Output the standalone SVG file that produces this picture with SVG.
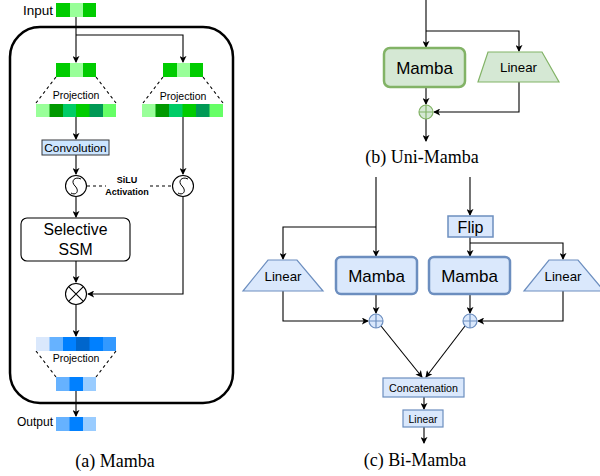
<svg xmlns="http://www.w3.org/2000/svg" width="600" height="476" viewBox="0 0 600 476">
<style>
.ln{fill:none;stroke:#000;stroke-width:1.1}
.da{fill:none;stroke:#000;stroke-width:1.1;stroke-dasharray:3 3}
.t{font-family:"Liberation Sans",Arial,sans-serif;fill:#000}
.cap{font-family:"Liberation Serif","Times New Roman",serif;font-size:18px;fill:#000}
.g{fill:#d5e8d4;stroke:#82b366}
.b{fill:#dae8fc;stroke:#6c8ebf}
</style>
<defs>
<marker id="ar" viewBox="0 0 8 8" refX="7" refY="4" markerWidth="7" markerHeight="7" markerUnits="userSpaceOnUse" orient="auto">
<path d="M0,0 L8,4 L0,8 L2,4 Z" fill="#000"/>
</marker>
</defs>

<!-- connectors -->
<g id="connectors">
<path class="ln" d="M76,16 V62" marker-end="url(#ar)"/>
<path class="ln" d="M76,35 H183 V62" marker-end="url(#ar)"/>
<path class="ln" d="M76,117 V139" marker-end="url(#ar)"/>
<path class="ln" d="M183,117 V174" marker-end="url(#ar)"/>
<path class="ln" d="M76,155 V174" marker-end="url(#ar)"/>
<path class="da" d="M87,186 H106 M150,186 H172"/>
<path class="ln" d="M76,197 V217" marker-end="url(#ar)"/>
<path class="ln" d="M76,261 V282" marker-end="url(#ar)"/>
<path class="ln" d="M183,197 V294 H88" marker-end="url(#ar)"/>
<path class="ln" d="M76,305 V336" marker-end="url(#ar)"/>
<path class="ln" d="M76,391 V416" marker-end="url(#ar)"/>
<path class="da" d="M56,77 L36,103 M96,77 L116,103"/>
<path class="da" d="M163,77 L143,103 M203,77 L223,103"/>
<path class="da" d="M36,351 L56,377 M116,351 L96,377"/>

<path class="ln" d="M426,0 V47" marker-end="url(#ar)"/>
<path class="ln" d="M426,31 H519 V51" marker-end="url(#ar)"/>
<path class="ln" d="M426,87 V104" marker-end="url(#ar)"/>
<path class="ln" d="M519,82 V112 H434" marker-end="url(#ar)"/>
<path class="ln" d="M426,119 V141" marker-end="url(#ar)"/>

<path class="ln" d="M376,177 V256" marker-end="url(#ar)"/>
<path class="ln" d="M376,227 H283 V259" marker-end="url(#ar)"/>
<path class="ln" d="M470,177 V215" marker-end="url(#ar)"/>
<path class="ln" d="M470,237 V256" marker-end="url(#ar)"/>
<path class="ln" d="M470,243 H563 V259" marker-end="url(#ar)"/>
<path class="ln" d="M376,294 V313" marker-end="url(#ar)"/>
<path class="ln" d="M470,294 V313" marker-end="url(#ar)"/>
<path class="ln" d="M283,291 V321 H368" marker-end="url(#ar)"/>
<path class="ln" d="M563,291 V321 H478" marker-end="url(#ar)"/>
<path class="ln" d="M381,326 L422,377" marker-end="url(#ar)"/>
<path class="ln" d="M465,326 L426,377" marker-end="url(#ar)"/>
<path class="ln" d="M424,397 V409" marker-end="url(#ar)"/>
<path class="ln" d="M424,427 V443" marker-end="url(#ar)"/>
</g>

<!-- (a) Mamba -->
<g id="outer"><rect x="10" y="27" width="223" height="376" rx="30" fill="none" stroke="#000" stroke-width="2.5"/></g>

<g id="input">
<text class="t" x="53" y="15" font-size="13.5" text-anchor="end">Input</text>
<rect x="56" y="3" width="14" height="14" fill="#00cc00"/><rect x="70" y="3" width="13" height="14" fill="#99ff99"/><rect x="83" y="3" width="13" height="14" fill="#00cc00"/>
</g>

<g id="proj-left">
<rect x="56" y="63" width="14" height="14" fill="#00cc00"/><rect x="70" y="63" width="13" height="14" fill="#99ff99"/><rect x="83" y="63" width="13" height="14" fill="#00cc00"/>
<text class="t" x="76" y="99" font-size="10.5" text-anchor="middle" fill="#333">Projection</text>
<rect x="36" y="104" width="14" height="13" fill="#99ff99"/><rect x="49.5" y="104" width="14" height="13" fill="#009900"/><rect x="63" y="104" width="14" height="13" fill="#00cc66"/><rect x="76" y="104" width="14" height="13" fill="#00cc00"/><rect x="89.5" y="104" width="14" height="13" fill="#009955"/><rect x="103" y="104" width="13" height="13" fill="#66ff66"/>
</g>

<g id="proj-right">
<rect x="163" y="63" width="14" height="14" fill="#00cc00"/><rect x="177" y="63" width="13" height="14" fill="#99ff99"/><rect x="190" y="63" width="13" height="14" fill="#00cc00"/>
<text class="t" x="183" y="100" font-size="10.5" text-anchor="middle" fill="#333">Projection</text>
<rect x="142" y="104" width="14" height="13" fill="#99ff99"/><rect x="155.5" y="104" width="14" height="13" fill="#009900"/><rect x="169" y="104" width="14" height="13" fill="#00cc66"/><rect x="182.5" y="104" width="14" height="13" fill="#00cc00"/><rect x="196" y="104" width="14" height="13" fill="#009955"/><rect x="209.5" y="104" width="13.5" height="13" fill="#66ff66"/>
</g>

<g id="conv">
<rect x="42" y="140" width="67" height="15" fill="#cce5ff" stroke="#36393d" stroke-width="1"/>
<text class="t" x="75.5" y="152" font-size="11.8" text-anchor="middle">Convolution</text>
</g>

<g id="silu-left">
<circle cx="76" cy="186" r="10.5" fill="#fff" stroke="#000" stroke-width="1.1"/>
<path d="M81,179 C75,176 70,181 75,186 C80,191 76,196 71,193" fill="none" stroke="#000" stroke-width="1"/>
</g>
<g id="silu-right">
<circle cx="183" cy="186" r="10.5" fill="#fff" stroke="#000" stroke-width="1.1"/>
<path d="M188,179 C182,176 177,181 182,186 C187,191 183,196 178,193" fill="none" stroke="#000" stroke-width="1"/>
</g>
<g id="silu-label">
<text class="t" x="127" y="183" font-size="9" font-weight="bold" text-anchor="middle" fill="#222">SiLU</text>
<text class="t" x="127" y="195" font-size="9" font-weight="bold" text-anchor="middle" fill="#222">Activation</text>
</g>

<g id="ssm">
<rect x="21" y="218" width="109" height="43" rx="6" fill="#fff" stroke="#000" stroke-width="1.1"/>
<text class="t" x="75.5" y="235" font-size="15.8" text-anchor="middle">Selective</text>
<text class="t" x="75.5" y="255" font-size="15.8" text-anchor="middle">SSM</text>
</g>

<g id="mul">
<circle cx="76" cy="294" r="10.5" fill="#fff" stroke="#000" stroke-width="1.1"/>
<path d="M68.6,286.6 L83.4,301.4 M83.4,286.6 L68.6,301.4" stroke="#000" stroke-width="1.1"/>
</g>

<g id="proj-out">
<rect x="36" y="337" width="14" height="14" fill="#dae8fc"/><rect x="49.5" y="337" width="14" height="14" fill="#66b2ff"/><rect x="63" y="337" width="14" height="14" fill="#0080ff"/><rect x="76" y="337" width="14" height="14" fill="#0066cc"/><rect x="89.5" y="337" width="14" height="14" fill="#0080ff"/><rect x="103" y="337" width="13" height="14" fill="#3399ff"/>
<text class="t" x="76" y="362" font-size="10.5" text-anchor="middle" fill="#333">Projection</text>
<rect x="56" y="377" width="14" height="14" fill="#66b2ff"/><rect x="69.5" y="377" width="14" height="14" fill="#0080ff"/><rect x="83" y="377" width="13" height="14" fill="#99ccff"/>
</g>

<g id="output">
<text class="t" x="53" y="426" font-size="12" text-anchor="end">Output</text>
<rect x="56" y="417" width="14" height="14" fill="#66b2ff"/><rect x="69.5" y="417" width="14" height="14" fill="#0080ff"/><rect x="83" y="417" width="13" height="14" fill="#99ccff"/>
</g>
<text class="cap" x="115" y="467" text-anchor="middle">(a) Mamba</text>

<!-- (b) Uni-Mamba -->
<g id="uni-mamba">
<rect class="g" x="384" y="48" width="81" height="39" rx="6" stroke-width="2.5"/>
<text class="t" x="424.5" y="74" font-size="17" text-anchor="middle">Mamba</text>
</g>
<g id="uni-linear">
<path class="g" d="M488,52 H542 L559,82 H478 Z" stroke-width="1.2"/>
<text class="t" x="518.5" y="72" font-size="13.3" text-anchor="middle">Linear</text>
</g>
<g id="uni-add">
<circle class="g" cx="426" cy="112" r="7" stroke-width="1.2"/>
<path d="M419,112 H433 M426,105 V119" stroke="#82b366" stroke-width="1.2"/>
</g>
<text class="cap" x="422" y="163" text-anchor="middle">(b) Uni-Mamba</text>

<!-- (c) Bi-Mamba -->
<g id="flip">
<rect class="b" x="448" y="216" width="45" height="21" stroke-width="1.5"/>
<text class="t" x="470.5" y="232.5" font-size="16" text-anchor="middle">Flip</text>
</g>
<g id="bi-linear-left">
<path class="b" d="M268,260 H297 L323,291 H243 Z" stroke-width="1.2"/>
<text class="t" x="283" y="281" font-size="13.3" text-anchor="middle">Linear</text>
</g>
<g id="bi-mamba-left">
<rect class="b" x="336" y="257" width="81" height="37" rx="5" stroke-width="2.5"/>
<text class="t" x="376.5" y="281.5" font-size="17" text-anchor="middle">Mamba</text>
</g>
<g id="bi-mamba-right">
<rect class="b" x="429" y="257" width="81" height="37" rx="5" stroke-width="2.5"/>
<text class="t" x="469.5" y="281.5" font-size="17" text-anchor="middle">Mamba</text>
</g>
<g id="bi-linear-right">
<path class="b" d="M549,260 H578 L604,291 H524 Z" stroke-width="1.2"/>
<text class="t" x="563" y="281" font-size="13.3" text-anchor="middle">Linear</text>
</g>
<g id="bi-add-left">
<circle class="b" cx="376" cy="321" r="7" stroke-width="1.2"/>
<path d="M369,321 H383 M376,314 V328" stroke="#6c8ebf" stroke-width="1.2"/>
</g>
<g id="bi-add-right">
<circle class="b" cx="470" cy="321" r="7" stroke-width="1.2"/>
<path d="M463,321 H477 M470,314 V328" stroke="#6c8ebf" stroke-width="1.2"/>
</g>
<g id="concat">
<rect class="b" x="383" y="378" width="81" height="19" stroke-width="1.2"/>
<text class="t" x="423.5" y="391.5" font-size="10.7" text-anchor="middle">Concatenation</text>
</g>
<g id="bi-linear-out">
<rect class="b" x="403" y="410" width="40" height="17" stroke-width="1.2"/>
<text class="t" x="423" y="422.5" font-size="10.4" text-anchor="middle">Linear</text>
</g>
<text class="cap" x="415" y="466" text-anchor="middle">(c) Bi-Mamba</text>
</svg>
